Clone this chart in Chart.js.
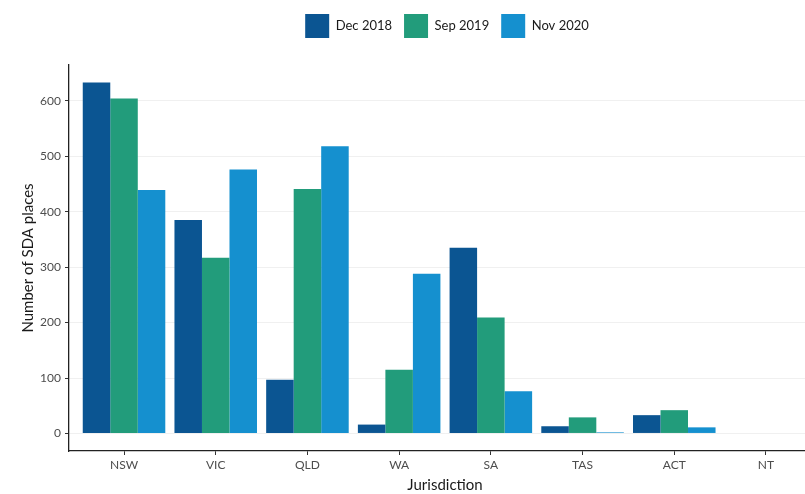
<!DOCTYPE html>
<html>
<head>
<meta charset="utf-8">
<script src="https://cdn.jsdelivr.net/npm/chart.js@4"></script>
<style>
  html, body { margin: 0; padding: 0; background: #fff; overflow: hidden; }
  #wrap { width: 821px; height: 494px; }
</style>
</head>
<body>
<div id="wrap"><canvas id="myChart" width="821" height="494"></canvas></div>
<script>
// SDA places by jurisdiction
var jurisdictions = ["NSW", "VIC", "QLD", "WA", "SA", "TAS", "ACT", "NT"];
var dec2018 = [633, 385, 97, 16, 335, 13, 33, 0];
var sep2019 = [604, 317, 441, 115, 209, 29, 42, 0];
var nov2020 = [439, 476, 518, 288, 76, 2, 11, 0];
var yTicks = [0, 100, 200, 300, 400, 500, 600];

function toPoints(vals) {
    return vals.map(function (v, i) { return { x: i, y: v }; });
}

// max of all values, ggplot style 5% expansion either side
var allVals = dec2018.concat(sep2019, nov2020);
var yMaxData = Math.max.apply(null, allVals);
var yPad = yMaxData * 0.05;

Chart.defaults.font.family = "Lato, 'Open Sans', sans-serif";

// legend a bit lower and push the plot down like ggplot does
var legendGap = {
    id: "legendGap",
    beforeLayout: function (chart) {
        var lg = chart.legend;
        if (lg && !lg._patched) {
            var fit = lg.fit;
            lg.fit = function () { fit.call(this); this.height += 17; };
            var draw = lg.draw;
            lg.draw = function () {
                this.ctx.save();
                this.ctx.translate(2, 0);
                draw.call(this);
                this.ctx.restore();
            };
            lg._patched = true;
        }
    }
};

new Chart("myChart", {
    type: "bar",
    data: {
        datasets: [{
            label: "Dec 2018",
            data: toPoints(dec2018),
            backgroundColor: "#0b5592",
            borderWidth: 0
        }, {
            label: "Sep 2019",
            data: toPoints(sep2019),
            backgroundColor: "#229c7b",
            borderWidth: 0
        }, {
            label: "Nov 2020",
            data: toPoints(nov2020),
            backgroundColor: "#1590cf",
            borderWidth: 0
        }]
    },
    plugins: [legendGap],
    options: {
        responsive: false,
        animation: false,
        layout: { padding: { top: 2, left: 0, right: 0, bottom: 0 } },
        datasets: { bar: { categoryPercentage: 0.9, barPercentage: 1.0 } },
        plugins: {
            tooltip: { enabled: false },
            legend: {
                display: true,
                position: "top",
                fullSize: false,
                labels: {
                    boxWidth: 24,
                    boxHeight: 24,
                    padding: 12,
                    color: "#1a1a1a",
                    font: { size: 13 }
                }
            }
        },
        scales: {
            x: {
                type: "linear",
                offset: false,
                min: -0.6,
                max: jurisdictions.length - 1 + 0.6,
                afterBuildTicks: function (axis) {
                    axis.ticks = jurisdictions.map(function (c, i) { return { value: i }; });
                },
                afterFit: function (s) { s.height = 43; },
                ticks: {
                    autoSkip: false,
                    maxRotation: 0,
                    padding: 3,
                    color: "#4d4d4d",
                    font: { size: 12 },
                    callback: function (v) { return jurisdictions[v]; }
                },
                grid: {
                    offset: false,
                    drawOnChartArea: false,
                    drawTicks: true,
                    tickLength: 4,
                    tickColor: "#333",
                    tickWidth: 1
                },
                border: { display: true, color: "#222", width: 1.3 },
                title: {
                    display: true,
                    text: "Jurisdiction",
                    color: "#1a1a1a",
                    font: { size: 15 },
                    padding: { top: 0, bottom: 0 }
                }
            },
            y: {
                min: -yPad,
                max: yMaxData + yPad,
                afterBuildTicks: function (axis) {
                    axis.ticks = yTicks.map(function (v) { return { value: v }; });
                },
                afterFit: function (s) { s.width = 69; },
                ticks: {
                    padding: 4,
                    color: "#4d4d4d",
                    font: { size: 12 }
                },
                grid: {
                    color: "#f0f0f0",
                    lineWidth: 1,
                    drawTicks: true,
                    tickLength: 4,
                    tickColor: "#333"
                },
                border: { display: true, color: "#222", width: 1.3 },
                title: {
                    display: true,
                    text: "Number of SDA places",
                    color: "#1a1a1a",
                    font: { size: 15 },
                    padding: { top: 19, bottom: 0 }
                }
            }
        }
    }
});
</script>
</body>
</html>
